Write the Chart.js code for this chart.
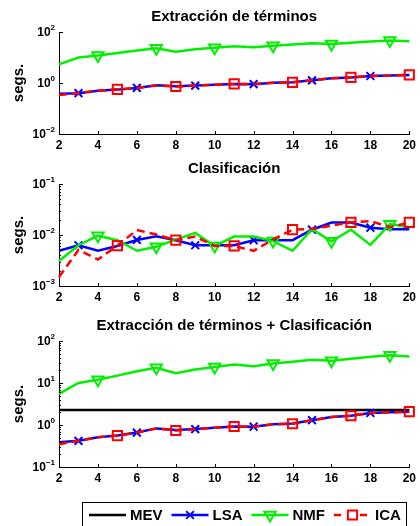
<!DOCTYPE html>
<html lang="es">
<head>
  <meta charset="UTF-8">
  <title>Tiempos de cómputo</title>
  <script src="https://cdn.jsdelivr.net/npm/chart.js"></script>
  <style>
    body { margin: 0; background: #fff; }
    .panel { position: absolute; left: 0; width: 420px; }
  </style>
</head>
<body>

<div class="panel" style="top:9px;height:145px"><canvas id="extChart"></canvas></div>
<div class="panel" style="top:161px;height:145px"><canvas id="clsChart"></canvas></div>
<div class="panel" style="top:318px;height:208px"><canvas id="totalChart"></canvas></div>

<script>
  // number of dimensions on the x axis
  const xs = [2, 3, 4, 5, 6, 7, 8, 9, 10, 11, 12, 13, 14, 15, 16, 17, 18, 19, 20];
  const xTicks = [2, 4, 6, 8, 10, 12, 14, 16, 18, 20];

  // y tick exponents (labels are 10^n)
  const extExps = [-2, 0, 2];
  const clsExps = [-3, -2, -1];
  const totalExps = [-1, 0, 1, 2];

  // Extracción de términos (segs.)
  const lsaExt = [0.38, 0.40, 0.50, 0.55, 0.64, 0.81, 0.74, 0.79, 0.85, 0.92, 0.90, 1.03, 1.07, 1.27, 1.53, 1.65, 1.88, 1.98, 2.06];
  const nmfExt = [5.4, 10, 12, 15, 19, 23, 17, 21, 24, 27.5, 25, 29, 32, 36, 34, 38, 42, 46, 43];
  const icaExt = [0.34, 0.40, 0.50, 0.56, 0.64, 0.81, 0.73, 0.79, 0.85, 0.92, 0.90, 1.03, 1.06, 1.27, 1.53, 1.67, 1.88, 1.98, 2.08];

  // Clasificación (segs.)
  const lsaCls = [0.0049, 0.0063, 0.0049, 0.0061, 0.008, 0.0094, 0.0079, 0.0063, 0.0063, 0.0063, 0.0079, 0.0079, 0.0079, 0.0127, 0.0175, 0.0175, 0.0139, 0.0129, 0.0129];
  const nmfCls = [0.0031, 0.0063, 0.0097, 0.0079, 0.0049, 0.0059, 0.0081, 0.011, 0.0061, 0.0093, 0.0093, 0.0076, 0.0049, 0.013, 0.0075, 0.0127, 0.0064, 0.0163, 0.0144];
  const icaCls = [0.0015, 0.0051, 0.0033, 0.0062, 0.0125, 0.0102, 0.0079, 0.0093, 0.0061, 0.0061, 0.0049, 0.0082, 0.0127, 0.0132, 0.0152, 0.0177, 0.0188, 0.0142, 0.0177];

  // Extracción de términos + Clasificación (segs.)
  const mevTotal = [2.28, 2.28, 2.28, 2.28, 2.28, 2.28, 2.28, 2.28, 2.28, 2.28, 2.28, 2.28, 2.28, 2.28, 2.28, 2.28, 2.28, 2.28, 2.28];
  const lsaTotal = [0.39, 0.42, 0.51, 0.56, 0.66, 0.83, 0.76, 0.80, 0.86, 0.92, 0.91, 1.04, 1.09, 1.30, 1.55, 1.66, 1.93, 2.0, 2.08];
  const nmfTotal = [5.5, 10, 12, 15, 19, 23, 17, 21, 24, 27.5, 25, 29, 32, 36, 34, 38, 42, 46, 43];
  const icaTotal = [0.35, 0.42, 0.51, 0.56, 0.66, 0.83, 0.74, 0.80, 0.86, 0.92, 0.91, 1.04, 1.07, 1.30, 1.55, 1.66, 1.93, 2.0, 2.08];

  // where each series puts its marker
  const lsaMarks = [3, 6, 9, 12, 15, 18];
  const nmfMarks = [4, 7, 10, 13, 16, 19];
  const icaMarks = [5, 8, 11, 14, 17, 20];

  const FONT = "'Liberation Sans', Arial, sans-serif";
  Chart.defaults.font.family = FONT;
  Chart.defaults.color = '#000';

  const series = {
    MEV: { color: '#000000', dash: [], marker: null, radius: 0, rotation: 0, marks: [], order: 3 },
    LSA: { color: '#0000ff', dash: [], marker: 'crossRot', radius: 5.5, rotation: 0, marks: lsaMarks, order: 2 },
    NMF: { color: '#00f000', dash: [], marker: 'triangle', radius: 6.5, rotation: 180, marks: nmfMarks, order: 1 },
    ICA: { color: '#ff0000', dash: [8, 5], marker: 'rect', radius: 6.5, rotation: 0, marks: icaMarks, order: 0 }
  };

  function makeDataset(name, values) {
    const s = series[name];
    return {
      label: name,
      data: xs.map((x, i) => ({ x: x, y: values[i] })),
      borderColor: s.color,
      borderWidth: 2.5,
      borderDash: s.dash,
      backgroundColor: 'rgba(0,0,0,0)',
      pointStyle: s.marker || 'circle',
      pointRotation: s.rotation,
      pointRadius: ctx => s.marks.includes(xs[ctx.dataIndex]) ? s.radius : 0,
      pointBorderColor: s.color,
      pointBackgroundColor: 'rgba(0,0,0,0)',
      pointBorderWidth: 2,
      tension: 0,
      order: s.order,
      clip: 10
    };
  }

  // inward tick marks and 10^n labels, drawn the way the original figure has them
  const axesDecor = {
    id: 'axesDecor',
    afterDraw(chart, args, opts) {
      const ctx = chart.ctx;
      const xScale = chart.scales.x, yScale = chart.scales.y;
      const left = chart.chartArea.left, bottom = chart.chartArea.bottom;
      const exps = opts.exps;
      ctx.save();
      ctx.strokeStyle = '#000';
      ctx.lineWidth = 1;
      ctx.beginPath();
      exps.forEach((e, i) => {
        const py = Math.round(yScale.getPixelForValue(Math.pow(10, e))) + 0.5;
        ctx.moveTo(left, py); ctx.lineTo(left + 4, py);
        if (opts.minor && i < exps.length - 1) {
          for (let m = 2; m < 10; m++) {
            const my = Math.round(yScale.getPixelForValue(m * Math.pow(10, e))) + 0.5;
            ctx.moveTo(left, my); ctx.lineTo(left + 2, my);
          }
        }
      });
      xTicks.forEach(v => {
        if (v === xScale.min) return;
        const px = Math.round(xScale.getPixelForValue(v)) + 0.5;
        ctx.moveTo(px, bottom); ctx.lineTo(px, bottom - 3);
      });
      ctx.stroke();

      ctx.fillStyle = '#000';
      ctx.textBaseline = 'middle';
      ctx.textAlign = 'right';
      exps.forEach(e => {
        const py = yScale.getPixelForValue(Math.pow(10, e));
        const exp = e < 0 ? '\u2212' + (-e) : String(e);
        ctx.font = 'bold 8px ' + FONT;
        const w = ctx.measureText(exp).width;
        ctx.fillText(exp, left - 4, py - 4);
        ctx.font = 'bold 12px ' + FONT;
        ctx.fillText('10', left - 4 - w, py + 1);
      });
      ctx.restore();
    }
  };

  // MATLAB style legend box under the last panel
  const legendBox = {
    id: 'legendBox',
    afterDraw(chart) {
      const ctx = chart.ctx;
      const top = 184, cy = 197;
      ctx.save();
      ctx.strokeStyle = '#000';
      ctx.lineWidth = 1;
      ctx.strokeRect(82.5, top + 0.5, 324, 40);
      ctx.font = 'bold 15px ' + FONT;
      ctx.textBaseline = 'middle';
      ctx.textAlign = 'left';
      let x = 89;
      ['MEV', 'LSA', 'NMF', 'ICA'].forEach(name => {
        const s = series[name];
        ctx.strokeStyle = s.color;
        ctx.lineWidth = 2.5;
        ctx.setLineDash(s.dash.length ? [7, 6] : []);
        ctx.beginPath();
        ctx.moveTo(x, cy); ctx.lineTo(x + 37, cy);
        ctx.stroke();
        ctx.setLineDash([]);
        if (s.marker) {
          if (name === 'ICA') {
            ctx.fillStyle = '#fff';
            ctx.fillRect(x + 12, cy - 6, 13, 12);
          }
          ctx.fillStyle = 'rgba(0,0,0,0)';
          ctx.lineWidth = 2;
          Chart.helpers.drawPoint(ctx, { pointStyle: s.marker, rotation: s.rotation, radius: s.radius, borderWidth: 2 }, x + 18.5, cy);
        }
        ctx.fillStyle = '#000';
        ctx.fillText(name, x + 41, cy + 1);
        x += 41 + ctx.measureText(name).width + 9;
      });
      ctx.restore();
    }
  };

  function makeChart(id, titleText, yMin, yMax, exps, datasets, minor, bottomPad, extraPlugins) {
    return new Chart(document.getElementById(id).getContext('2d'), {
      type: 'line',
      data: { datasets: datasets },
      plugins: [axesDecor].concat(extraPlugins),
      options: {
        responsive: true,
        maintainAspectRatio: false,
        animation: false,
        layout: { padding: { left: 0, right: 6, top: 0, bottom: bottomPad } },
        plugins: {
          legend: { display: false },
          tooltip: { enabled: false },
          title: {
            display: true,
            text: titleText,
            fullSize: false,
            color: '#000',
            font: { size: 15, weight: 'bold', lineHeight: 1 },
            padding: { top: 0, bottom: 8 }
          },
          axesDecor: { minor: minor, exps: exps }
        },
        scales: {
          x: {
            type: 'linear',
            min: 2,
            max: 20,
            afterBuildTicks: scale => { scale.ticks = xTicks.map(v => ({ value: v })); },
            afterFit: scale => { scale.height = 20; },
            grid: { display: false, drawTicks: false },
            border: { display: true, color: '#000', width: 1 },
            ticks: { padding: 4, font: { size: 12, weight: 'bold' }, color: '#000', maxRotation: 0 }
          },
          y: {
            type: 'logarithmic',
            min: yMin,
            max: yMax,
            afterFit: scale => { scale.width = 59; },
            grid: { display: false, drawTicks: false },
            border: { display: true, color: '#000', width: 1 },
            ticks: { display: false },
            title: {
              display: true,
              text: 'segs.',
              color: '#000',
              font: { size: 15, weight: 'bold' },
              padding: { top: 10, bottom: 0 }
            }
          }
        }
      }
    });
  }

  makeChart('extChart', 'Extracción de términos', 1e-2, 1e2, extExps, [
    makeDataset('LSA', lsaExt),
    makeDataset('NMF', nmfExt),
    makeDataset('ICA', icaExt)
  ], false, 0, []);

  makeChart('clsChart', 'Clasificación', 1e-3, 1e-1, clsExps, [
    makeDataset('LSA', lsaCls),
    makeDataset('NMF', nmfCls),
    makeDataset('ICA', icaCls)
  ], true, 0, []);

  makeChart('totalChart', 'Extracción de términos + Clasificación', 1e-1, 1e2, totalExps, [
    makeDataset('MEV', mevTotal),
    makeDataset('LSA', lsaTotal),
    makeDataset('NMF', nmfTotal),
    makeDataset('ICA', icaTotal)
  ], true, 39, [legendBox]);
</script>

</body>
</html>
